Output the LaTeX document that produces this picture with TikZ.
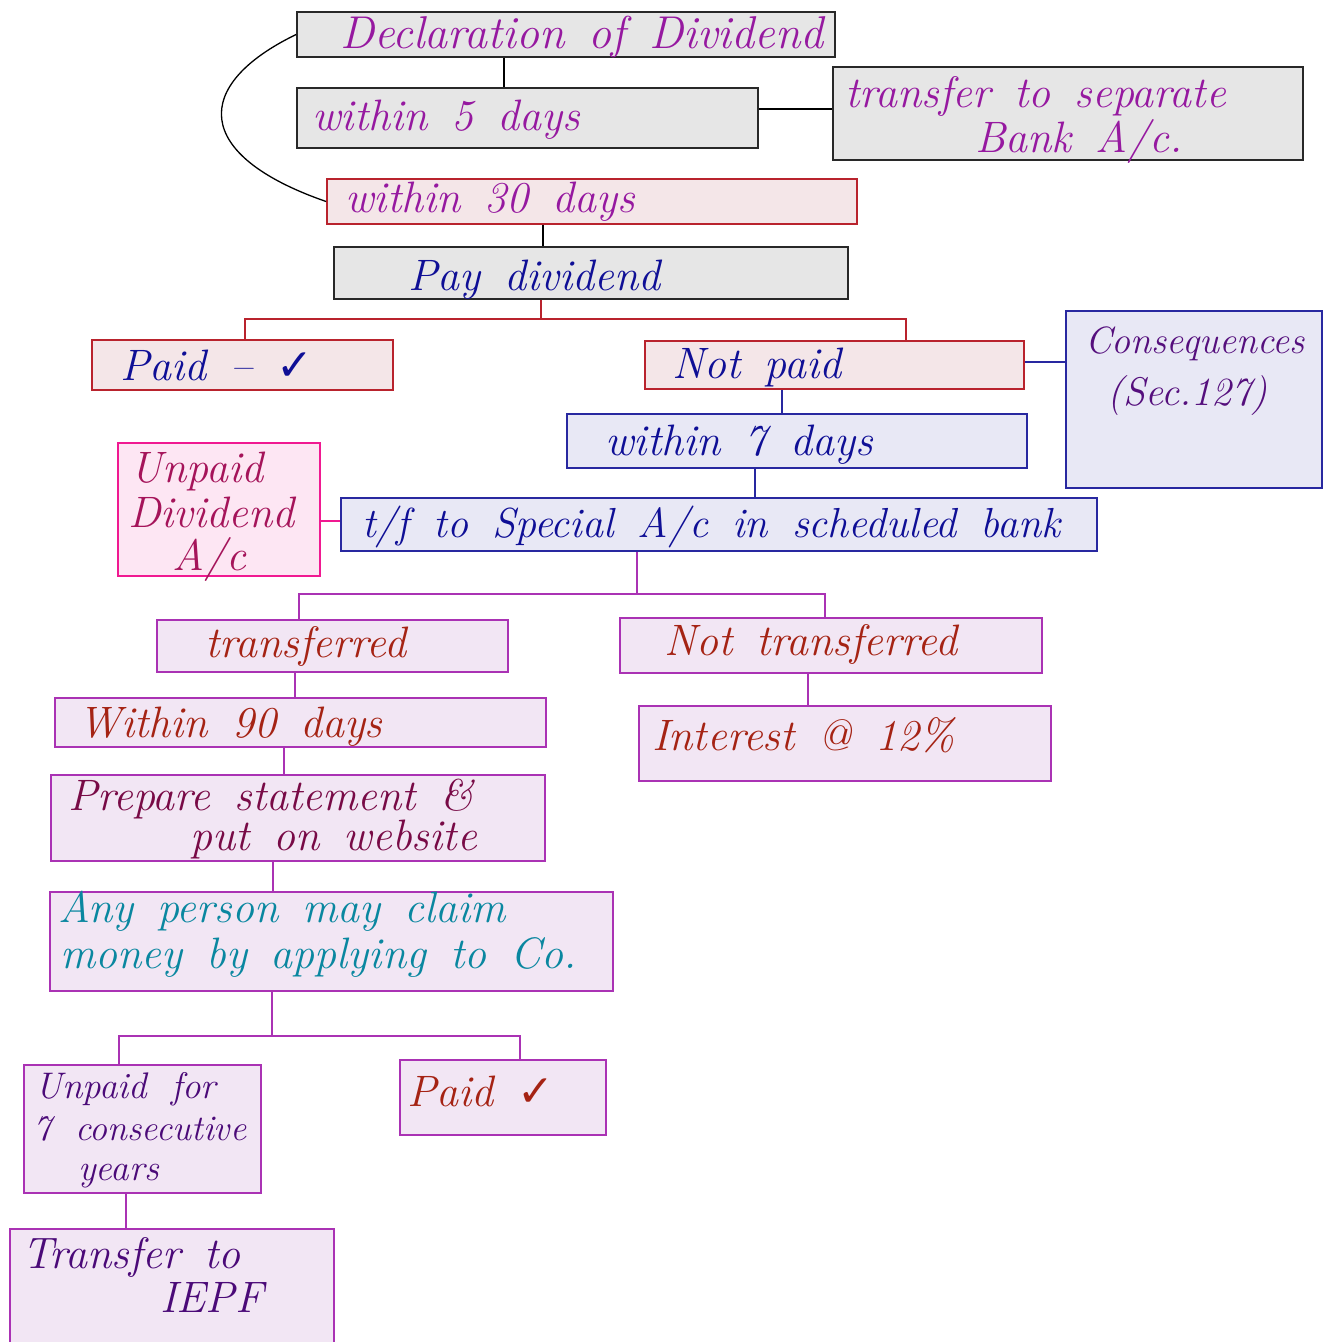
\documentclass[tikz,border=0pt]{standalone}
\usepackage{fontspec}
\newfontfamily\dejavu{DejaVu Sans}
\usetikzlibrary{fit}
\definecolor{gfill}{RGB}{230,230,230}
\definecolor{gdraw}{RGB}{40,40,40}
\definecolor{tpurp}{RGB}{150,25,160}
\definecolor{pfill}{RGB}{244,230,232}
\definecolor{rdraw}{RGB}{185,35,45}
\definecolor{tblue}{RGB}{15,15,150}
\definecolor{lfill}{RGB}{232,232,245}
\definecolor{bdraw}{RGB}{40,40,160}
\definecolor{tcons}{RGB}{85,15,125}
\definecolor{mfill}{RGB}{253,230,243}
\definecolor{mdraw}{RGB}{240,25,145}
\definecolor{tmag}{RGB}{165,20,90}
\definecolor{vfill}{RGB}{242,230,244}
\definecolor{vdraw}{RGB}{170,50,180}
\definecolor{tbrown}{RGB}{165,35,20}
\definecolor{tmaroon}{RGB}{120,10,70}
\definecolor{tteal}{RGB}{10,135,160}
\definecolor{tdpurp}{RGB}{75,10,120}
\newcommand{\hwsize}[1]{\fontsize{#1}{#1}\selectfont\itshape\spaceskip=24pt plus 4pt\relax}
\newcommand{\ck}{{\upshape\dejavu ✓}}
\begin{document}
\begin{tikzpicture}[x=1pt,y=-1pt,
  bx/.style={rectangle,inner sep=0pt,line width=1.8pt},
  gbox/.style={bx,fill=gfill,draw=gdraw},
  rbox/.style={bx,fill=pfill,draw=rdraw},
  lbox/.style={bx,fill=lfill,draw=bdraw},
  mbox/.style={bx,fill=mfill,draw=mdraw},
  vbox/.style={bx,fill=vfill,draw=vdraw},
  tx/.style={anchor=base west,inner sep=0pt,font=\hwsize{44}},
  cn/.style={line width=1.5pt}]
\useasboundingbox (0,0) rectangle (1332,1342);
% boxes
\node[gbox,fit={(297,12) (835,57)}] (decl) {};
\node[gbox,fit={(297,88) (758,148)}] (w5) {};
\node[gbox,fit={(833,67) (1303,160)}] (sep) {};
\node[rbox,fit={(327,179) (857,224)}] (w30) {};
\node[gbox,fit={(334,247) (848,299)}] (pay) {};
\node[rbox,fit={(92,340) (393,390)}] (paid) {};
\node[rbox,fit={(645,341) (1024,389)}] (np) {};
\node[lbox,fit={(1066,311) (1322,488)}] (cons) {};
\node[lbox,fit={(567,414) (1027,468)}] (w7) {};
\node[mbox,fit={(118,443) (320,576)}] (uda) {};
\node[lbox,fit={(341,498) (1097,551)}] (tf) {};
\node[vbox,fit={(157,620) (508,672)}] (trd) {};
\node[vbox,fit={(620,618) (1042,673)}] (ntr) {};
\node[vbox,fit={(55,698) (546,747)}] (w90) {};
\node[vbox,fit={(639,706) (1051,781)}] (int) {};
\node[vbox,fit={(51,775) (545,861)}] (prep) {};
\node[vbox,fit={(50,892) (613,991)}] (any) {};
\node[vbox,fit={(24,1065) (261,1193)}] (u7) {};
\node[vbox,fit={(400,1060) (606,1135)}] (pd2) {};
\node[vbox,fit={(10,1229) (334,1360)}] (iepf) {};
% texts
\node[tx,font=\hwsize{46},text=tpurp] (t1) at (340,48) {Declaration of Dividend};
\node[tx,text=tpurp] (t2) at (312,130) {within 5 days};
\node[tx,text=tpurp] (t3a) at (845,107) {transfer to separate};
\node[tx,text=tpurp] (t3b) at (975,152) {Bank A/c.};
\node[tx,text=tpurp] (t4) at (345,212) {within 30 days};
\node[tx,text=tblue] (t5) at (408,290) {Pay dividend};
\node[tx,text=tblue] (t6) at (120,380) {Paid -- \ck};
\node[tx,text=tblue] (t7) at (672,378) {Not paid};
\node[tx,font=\hwsize{38},text=tcons] (t8a) at (1085,353) {Consequences};
\node[tx,font=\hwsize{40},text=tcons] (t8b) at (1107,405) {(Sec.127)};
\node[tx,text=tblue] (t9) at (605,455) {within 7 days};
\node[tx,text=tmag] (t10a) at (130,482) {Unpaid};
\node[tx,text=tmag] (t10b) at (128,527) {Dividend};
\node[tx,text=tmag] (t10c) at (172,570) {A/c};
\node[tx,font=\hwsize{42},text=tblue] (t11) at (362,537) {t/f to Special A/c in scheduled bank};
\node[tx,text=tbrown] (t12) at (205,657) {transferred};
\node[tx,text=tbrown] (t13) at (664,655) {Not transferred};
\node[tx,text=tbrown] (t14) at (78,737) {Within 90 days};
\node[tx,text=tbrown] (t15) at (652,750) {Interest @ 12\%};
\node[tx,text=tmaroon] (t16a) at (68,810) {Prepare statement \&};
\node[tx,text=tmaroon] (t16b) at (190,850) {put on website};
\node[tx,text=tteal] (t17a) at (58,922) {Any person may claim};
\node[tx,text=tteal] (t17b) at (60,968) {money by applying to Co.};
\node[tx,font=\hwsize{37},text=tdpurp] (t18a) at (35,1098) {Unpaid for};
\node[tx,font=\hwsize{36},text=tdpurp] (t18b) at (33,1140) {7 consecutive};
\node[tx,font=\hwsize{37},text=tdpurp] (t18c) at (78,1180) {years};
\node[tx,text=tbrown] (t19) at (407,1106) {Paid \ck};
\node[tx,text=tdpurp] (t20a) at (22,1268) {Transfer to};
\node[tx,text=tdpurp] (t20b) at (160,1312) {IEPF};
% junction coordinates
\coordinate (x1) at (504,0);
\coordinate (x2) at (543,0);
\coordinate (x3) at (541,0);
\coordinate (jL) at (245,319);
\coordinate (jR) at (906,319);
\coordinate (x4) at (782,0);
\coordinate (x5) at (755,0);
\coordinate (x6) at (637,0);
\coordinate (kL) at (299,594);
\coordinate (kR) at (825,594);
\coordinate (x7) at (295,0);
\coordinate (x8) at (808,0);
\coordinate (x9) at (284,0);
\coordinate (x10) at (273,0);
\coordinate (x11) at (272,0);
\coordinate (mL) at (119,1036);
\coordinate (mR) at (520,1036);
\coordinate (x12) at (126,0);
\coordinate (y1) at (0,109);
\coordinate (y2) at (0,362);
\coordinate (y3) at (0,521);
% connectors
\draw[cn,black] (decl.south -| x1) -- (w5.north -| x1);
\draw[cn,black] (w5.east |- y1) -- (sep.west |- y1);
\draw[line width=1.3pt,black] (decl.west) .. controls (192,85) and (192,155) .. (w30.west);
\draw[cn,black] (w30.south -| x2) -- (pay.north -| x2);
\draw[cn,rdraw] (pay.south -| x3) -- (jL -| x3);
\draw[cn,rdraw] (paid.north -| jL) -- (jL) -- (jR) -- (np.north -| jR);
\draw[cn,bdraw] (np.east |- y2) -- (cons.west |- y2);
\draw[cn,bdraw] (np.south -| x4) -- (w7.north -| x4);
\draw[cn,bdraw] (w7.south -| x5) -- (tf.north -| x5);
\draw[cn,mdraw] (uda.east |- y3) -- (tf.west |- y3);
\draw[cn,vdraw] (tf.south -| x6) -- (kL -| x6);
\draw[cn,vdraw] (trd.north -| kL) -- (kL) -- (kR) -- (ntr.north -| kR);
\draw[cn,vdraw] (trd.south -| x7) -- (w90.north -| x7);
\draw[cn,vdraw] (ntr.south -| x8) -- (int.north -| x8);
\draw[cn,vdraw] (w90.south -| x9) -- (prep.north -| x9);
\draw[cn,vdraw] (prep.south -| x10) -- (any.north -| x10);
\draw[cn,vdraw] (any.south -| x11) -- (mL -| x11);
\draw[cn,vdraw] (u7.north -| mL) -- (mL) -- (mR) -- (pd2.north -| mR);
\draw[cn,vdraw] (u7.south -| x12) -- (iepf.north -| x12);
\end{tikzpicture}
\end{document}
